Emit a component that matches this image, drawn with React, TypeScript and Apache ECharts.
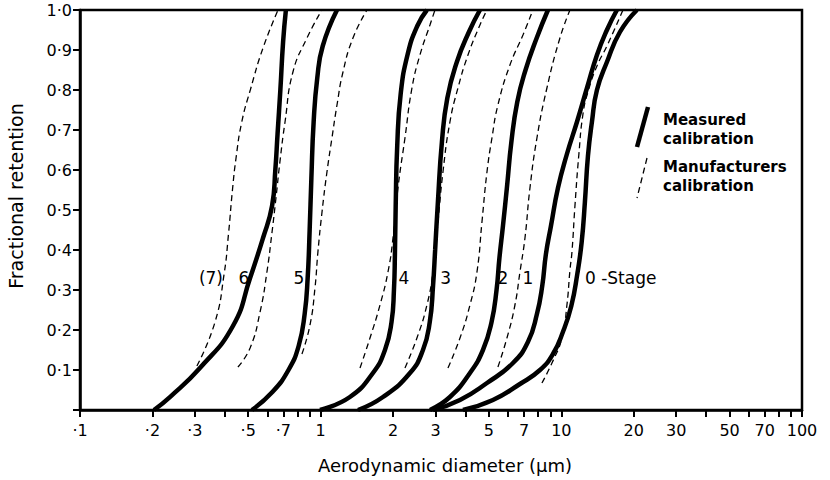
import React, { useEffect, useRef } from "react";
import * as echarts from "echarts";

const FONT = '"DejaVu Sans", "Liberation Sans", sans-serif';

// Axis ticks / labels (aerodynamic diameter, µm)
const xTickValues = [
  0.1, 0.2, 0.3, 0.4, 0.5, 0.6, 0.7, 0.8, 0.9,
  1, 2, 3, 4, 5, 6, 7, 8, 9,
  10, 20, 30, 40, 50, 60, 70, 80, 90, 100,
];
const xLabelValues = [0.1, 0.2, 0.3, 0.5, 0.7, 1, 2, 3, 5, 7, 10, 20, 30, 50, 70, 100];

// Measured calibration (diameter µm, fractional retention)
const measured6D = [0.203, 0.237, 0.315, 0.432, 0.509, 0.576, 0.628, 0.648, 0.662, 0.68, 0.698, 0.717];
const measured6F = [0, 0.033, 0.105, 0.21, 0.33, 0.43, 0.51, 0.6, 0.69, 0.8, 0.92, 1.0];
const measured5D = [0.518, 0.63, 0.735, 0.81, 0.858, 0.883, 0.9, 0.915, 0.935, 0.968, 1.02, 1.169];
const measured5F = [0, 0.045, 0.1, 0.16, 0.24, 0.33, 0.45, 0.58, 0.72, 0.83, 0.91, 1.0];
const measured4D = [0.993, 1.323, 1.649, 1.85, 1.97, 2.016, 2.035, 2.05, 2.08, 2.15, 2.3, 2.52, 2.764];
const measured4F = [0, 0.0325, 0.0925, 0.15, 0.22, 0.3, 0.39, 0.51, 0.66, 0.79, 0.89, 0.96, 1.0];
const measured3D = [1.429, 1.815, 2.35, 2.661, 2.84, 2.93, 2.99, 3.07, 3.19, 3.36, 3.68, 4.13, 4.59];
const measured3F = [0, 0.0325, 0.0925, 0.15, 0.22, 0.31, 0.4, 0.52, 0.67, 0.78, 0.87, 0.945, 1.0];
const measured2D = [2.845, 3.444, 4.172, 4.724, 5.13, 5.38, 5.53, 5.72, 5.95, 6.2, 6.56, 7.1, 7.9, 8.799];
const measured2F = [0, 0.0325, 0.0925, 0.15, 0.22, 0.3, 0.38, 0.46, 0.56, 0.67, 0.77, 0.85, 0.93, 1.0];
const measured1D = [2.928, 3.792, 4.909, 6.295, 7.263, 7.918, 8.33, 8.63, 9.054, 9.681, 10.55, 11.61, 12.78, 14.06, 15.47, 17.02];
const measured1F = [0, 0.025, 0.0675, 0.1175, 0.17, 0.24, 0.31, 0.39, 0.46, 0.555, 0.64, 0.72, 0.805, 0.8875, 0.95, 1.0];
const measured0D = [3.901, 5.197, 6.73, 8.151, 9.229, 10.15, 11.0, 11.65, 12.15, 12.53, 12.9, 13.4, 14.06, 15.47, 17.52, 20.61];
const measured0F = [0, 0.025, 0.065, 0.1, 0.14, 0.195, 0.26, 0.34, 0.42, 0.52, 0.635, 0.72, 0.8, 0.87, 0.945, 1.0];

// Manufacturers calibration
const maker7D = [0.306, 0.364, 0.397, 0.414, 0.43, 0.445, 0.47, 0.51, 0.576, 0.665];
const maker7F = [0.11, 0.22, 0.34, 0.44, 0.55, 0.63, 0.72, 0.8, 0.905, 1.0];
const maker6D = [0.453, 0.509, 0.56, 0.598, 0.628, 0.652, 0.677, 0.711, 0.767, 0.877, 1.012];
const maker6F = [0.1075, 0.155, 0.245, 0.345, 0.445, 0.53, 0.62, 0.72, 0.845, 0.93, 1.0];
const maker5D = [0.836, 0.903, 0.947, 0.974, 1.013, 1.062, 1.114, 1.169, 1.238, 1.362, 1.557];
const maker5F = [0.14, 0.2125, 0.305, 0.395, 0.495, 0.595, 0.68, 0.7625, 0.845, 0.93, 1.0];
const maker4D = [1.457, 1.603, 1.764, 1.904, 1.998, 2.095, 2.24, 2.395, 2.585, 2.845, 2.985];
const maker4F = [0.105, 0.18, 0.2625, 0.345, 0.43, 0.555, 0.68, 0.805, 0.8875, 0.9625, 1.0];
const maker3D = [2.24, 2.512, 2.764, 2.928, 3.072, 3.222, 3.444, 3.719, 4.093, 4.59, 4.909];
const maker3F = [0.105, 0.18, 0.2625, 0.345, 0.47, 0.595, 0.72, 0.805, 0.8875, 0.9625, 1.0];
const maker2D = [3.38, 3.792, 4.172, 4.461, 4.679, 4.909, 5.149, 5.452, 6.116, 6.926, 7.621];
const maker2F = [0.105, 0.18, 0.2625, 0.345, 0.47, 0.595, 0.68, 0.7625, 0.8625, 0.9375, 1.0];
const maker1D = [5.452, 5.943, 6.416, 6.73, 7.061, 7.406, 7.918, 8.712, 9.867, 10.86];
const maker1F = [0.1075, 0.18, 0.2625, 0.345, 0.43, 0.555, 0.68, 0.805, 0.93, 1.0];
const maker0D = [8.307, 9.142, 10.06, 10.55, 10.86, 11.07, 11.39, 11.83, 12.3, 12.9, 14.06, 15.47, 18.03];
const maker0F = [0.0675, 0.1175, 0.18, 0.2625, 0.35, 0.395, 0.51, 0.64, 0.74, 0.795, 0.86, 0.91, 1.0];

// Stage annotations
const stageLabelText = ["(7)", "6", "5", "4", "3", "2", "1", "0 -Stage"];
const stageLabelD = [0.35, 0.48, 0.812, 2.22, 3.31, 5.72, 7.26, 12.53];
const stageLabelF = 0.33;

const measuredSets = [
  [measured6D, measured6F],
  [measured5D, measured5F],
  [measured4D, measured4F],
  [measured3D, measured3F],
  [measured2D, measured2F],
  [measured1D, measured1F],
  [measured0D, measured0F],
];
const makerSets = [
  [maker7D, maker7F],
  [maker6D, maker6F],
  [maker5D, maker5F],
  [maker4D, maker4F],
  [maker3D, maker3F],
  [maker2D, maker2F],
  [maker1D, maker1F],
  [maker0D, maker0F],
];

const toPairs = (d: number[], f: number[]) => d.map((v, i) => [Math.log10(v), f[i]]);

export default function App() {
  const ref = useRef<HTMLDivElement>(null);
  useEffect(() => {
    if (!ref.current) return;
    const chart = echarts.init(ref.current, undefined, { renderer: "svg" });

    const series: any[] = [];
    makerSets.forEach(([d, f], i) => {
      series.push({
        type: "line",
        name: "Manufacturers calibration " + i,
        data: toPairs(d, f),
        showSymbol: false,
        smooth: 0.5,
        silent: true,
        z: 2,
        lineStyle: { color: "#000", width: 1.3, type: [6, 4] },
      });
    });
    measuredSets.forEach(([d, f], i) => {
      series.push({
        type: "line",
        name: "Measured calibration " + i,
        data: toPairs(d, f),
        showSymbol: false,
        smooth: 0.5,
        silent: true,
        z: 3,
        lineStyle: { color: "#000", width: 4.5 },
      });
    });
    series.push({
      type: "scatter",
      symbolSize: 0,
      silent: true,
      z: 4,
      itemStyle: { opacity: 1 },
      data: stageLabelD.map((d, i) => ({
        value: [Math.log10(d), stageLabelF],
        label: { align: i === stageLabelD.length - 1 ? "left" : "center" },
      })),
      label: {
        show: true,
        position: "inside",
        formatter: (p: any) => stageLabelText[p.dataIndex],
        color: "#000",
        opacity: 1,
        fontSize: 17,
        fontFamily: FONT,
        textBorderWidth: 0,
      },
    });

    chart.setOption({
      animation: false,
      backgroundColor: "#fff",
      grid: {
        left: 80,
        right: 28,
        top: 10,
        bottom: 70,
        show: true,
        borderColor: "#000",
        borderWidth: 2.5,
        backgroundColor: "transparent",
      },
      xAxis: {
        type: "value",
        min: -1,
        max: 2,
        splitLine: { show: false },
        axisLine: { show: true, onZero: false, lineStyle: { color: "#000", width: 2.5 } },
        axisTick: {
          show: true,
          customValues: xTickValues.map((v) => Math.log10(v)),
          length: 7,
          lineStyle: { color: "#000", width: 2 },
        },
        axisLabel: {
          customValues: xLabelValues.map((v) => Math.log10(v)),
          formatter: (v: number) => {
            const d = Math.pow(10, v);
            return d < 0.95 ? "\u00b7" + Math.round(d * 10) : String(Math.round(d));
          },
          margin: 12,
          color: "#000",
          fontSize: 16,
          fontFamily: FONT,
        },
      },
      yAxis: {
        type: "value",
        min: 0,
        max: 1,
        interval: 0.1,
        splitLine: { show: false },
        axisLine: { show: true, onZero: false, lineStyle: { color: "#000", width: 2.5 } },
        axisTick: { show: true, length: 7, lineStyle: { color: "#000", width: 2 } },
        axisLabel: {
          formatter: (v: number) => (v === 0 ? "" : v.toFixed(1).replace(".", "\u00b7")),
          margin: 8,
          color: "#000",
          fontSize: 16,
          fontFamily: FONT,
        },
      },
      graphic: [
        {
          type: "text",
          x: 16,
          y: 196,
          rotation: Math.PI / 2,
          style: {
            text: "Fractional retention",
            fontSize: 19,
            fontFamily: FONT,
            fill: "#000",
            align: "center",
            verticalAlign: "middle",
          },
        },
        {
          type: "text",
          x: 445,
          y: 465,
          style: {
            text: "Aerodynamic diameter (\u03bcm)",
            fontSize: 18,
            fontFamily: FONT,
            fill: "#000",
            align: "center",
            verticalAlign: "middle",
          },
        },
        {
          type: "line",
          shape: { x1: 648, y1: 107, x2: 637, y2: 147 },
          style: { stroke: "#000", lineWidth: 4.5 },
        },
        {
          type: "line",
          shape: { x1: 647, y1: 158, x2: 637, y2: 198 },
          style: { stroke: "#000", lineWidth: 1.3, lineDash: [6, 4] },
        },
        {
          type: "text",
          x: 663,
          y: 120,
          style: { text: "Measured", fontSize: 15, fontWeight: "bold", fontFamily: FONT, fill: "#000", verticalAlign: "middle" },
        },
        {
          type: "text",
          x: 663,
          y: 139,
          style: { text: "calibration", fontSize: 15, fontWeight: "bold", fontFamily: FONT, fill: "#000", verticalAlign: "middle" },
        },
        {
          type: "text",
          x: 663,
          y: 167,
          style: { text: "Manufacturers", fontSize: 15, fontWeight: "bold", fontFamily: FONT, fill: "#000", verticalAlign: "middle" },
        },
        {
          type: "text",
          x: 663,
          y: 186,
          style: { text: "calibration", fontSize: 15, fontWeight: "bold", fontFamily: FONT, fill: "#000", verticalAlign: "middle" },
        },
      ],
      series,
    });
    return () => chart.dispose();
  }, []);
  return (
    <div
      ref={ref}
      style={{ position: "absolute", left: 0, top: 0, width: 830, height: 480 }}
    />
  );
}
